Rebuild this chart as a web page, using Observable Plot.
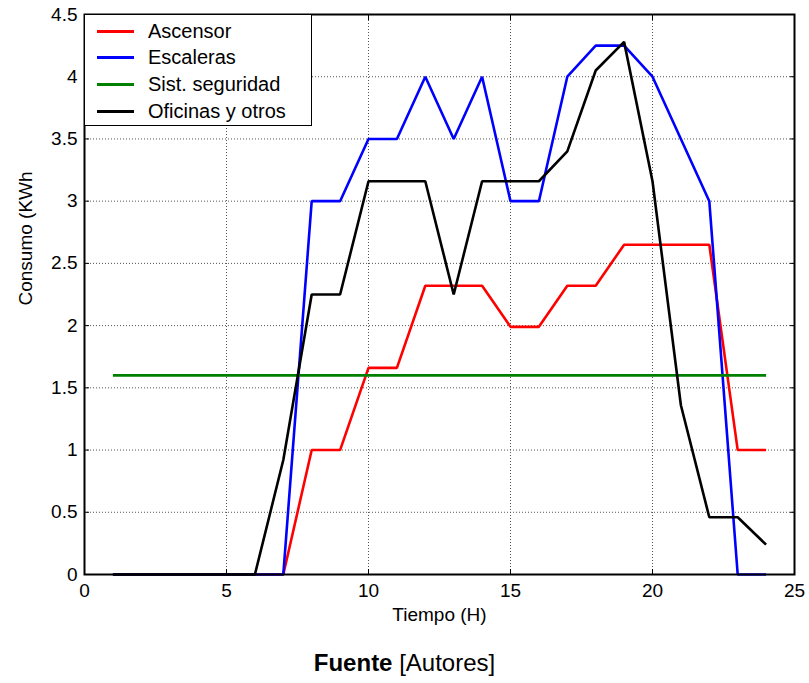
<!DOCTYPE html>
<html>
<head>
<meta charset="utf-8">
<script src="https://cdn.jsdelivr.net/npm/d3@7"></script>
<script src="https://cdn.jsdelivr.net/npm/@observablehq/plot@0.6"></script>
<style>
  html, body { margin: 0; padding: 0; background: #fff; }
  body { width: 809px; height: 683px; overflow: hidden; font-family: Arial, "Liberation Sans", sans-serif; }
  #wrap { position: relative; width: 809px; }
  #legend { position: absolute; left: 84px; top: 14px; width: 228px; height: 112px; border: 1.5px solid #000; background: #fff; box-sizing: border-box; }
  .row { position: absolute; left: 0; height: 26px; display: flex; align-items: center; font-size: 20px; color: #000; }
  .sw { display: inline-block; width: 37px; height: 3px; margin-left: 12px; margin-right: 14px; }
  #caption { text-align: center; font-size: 24px; line-height: 46px; height: 43px; color: #000; }
</style>
</head>
<body>
<div id="wrap">
  <div id="chart"></div>
  <div id="legend"></div>
</div>
<div id="caption"><b>Fuente</b> [Autores]</div>
<script>
// ---- Data ----
const horas = [1,2,3,4,5,6,7,8,9,10,11,12,13,14,15,16,17,18,19,20,21,22,23,24];
const ascensor = [0,0,0,0,0,0,0,1,1,1.66,1.66,2.32,2.32,2.32,1.99,1.99,2.32,2.32,2.65,2.65,2.65,2.65,1,1];
const escaleras = [0,0,0,0,0,0,0,3,3,3.5,3.5,4,3.5,4,3,3,4,4.25,4.25,4,3.5,3,0,0];
const seguridad = [1.6,1.6,1.6,1.6,1.6,1.6,1.6,1.6,1.6,1.6,1.6,1.6,1.6,1.6,1.6,1.6,1.6,1.6,1.6,1.6,1.6,1.6,1.6,1.6];
const oficinas = [0,0,0,0,0,0,0.92,2.25,2.25,3.16,3.16,3.16,2.25,3.16,3.16,3.16,3.4,4.05,4.28,3.16,1.36,0.46,0.46,0.24];

const seriesNames = ["Ascensor", "Escaleras", "Sist. seguridad", "Oficinas y otros"];
const seriesColors = ["#ff0000", "#0000ff", "#008000", "#000000"];
const seriesValues = [ascensor, escaleras, seguridad, oficinas];

const xTicks = [0, 5, 10, 15, 20, 25];
const yTicks = [0, 0.5, 1, 1.5, 2, 2.5, 3, 3.5, 4, 4.5];
const xLabel = "Tiempo (H)";
const yLabel = "Consumo (KWh";

const rows = [];
seriesNames.forEach((name, i) => {
  horas.forEach((h, j) => rows.push({serie: name, hora: h, valor: seriesValues[i][j]}));
});

const chart = Plot.plot({
  width: 809,
  height: 640,
  marginLeft: 84,
  marginRight: 15,
  marginTop: 14,
  marginBottom: 66,
  style: {fontFamily: "Arial, 'Liberation Sans', sans-serif", fontSize: "19px", color: "#000", background: "#fff"},
  x: {domain: [0, 25], ticks: xTicks},
  y: {domain: [0, 4.5], ticks: yTicks},
  color: {domain: seriesNames, range: seriesColors},
  marks: [
    Plot.gridX(xTicks, {stroke: "#555", strokeOpacity: 1, strokeDasharray: "1,2", strokeWidth: 1}),
    Plot.gridY(yTicks, {stroke: "#555", strokeOpacity: 1, strokeDasharray: "1,2", strokeWidth: 1}),
    Plot.axisX(xTicks, {anchor: "bottom", tickSize: 0, tickPadding: 9, label: null, tickFormat: d => String(d), fontSize: 19}),
    Plot.axisY(yTicks, {anchor: "left", tickSize: 0, tickPadding: 7, label: null, tickFormat: d => String(d), fontSize: 19}),
    Plot.axisX(xTicks, {anchor: "bottom", tickSize: -5, label: null, tickFormat: () => ""}),
    Plot.axisX(xTicks, {anchor: "top", tickSize: -5, label: null, tickFormat: () => ""}),
    Plot.axisY(yTicks, {anchor: "left", tickSize: -5, label: null, tickFormat: () => ""}),
    Plot.axisY(yTicks, {anchor: "right", tickSize: -5, label: null, tickFormat: () => ""}),
    Plot.line(rows, {x: "hora", y: "valor", z: "serie", stroke: "serie", strokeWidth: 2.6, strokeLinejoin: "miter", strokeLinecap: "butt"}),
    Plot.frame({stroke: "#000", strokeWidth: 2}),
    Plot.text([xLabel], {frameAnchor: "bottom", dy: 46, fontSize: 19, fill: "#000"}),
    Plot.text([yLabel], {frameAnchor: "left", rotate: -90, dx: -59, dy: 11, fontSize: 19, fill: "#000"})
  ]
});
document.getElementById("chart").appendChild(chart);

// Legend
const legend = document.getElementById("legend");
seriesNames.forEach((name, i) => {
  const r = document.createElement("div");
  r.className = "row";
  r.style.top = (3 + i * 26.7) + "px";
  const sw = document.createElement("span");
  sw.className = "sw";
  sw.style.background = seriesColors[i];
  r.appendChild(sw);
  r.appendChild(document.createTextNode(name));
  legend.appendChild(r);
});
</script>
</body>
</html>
